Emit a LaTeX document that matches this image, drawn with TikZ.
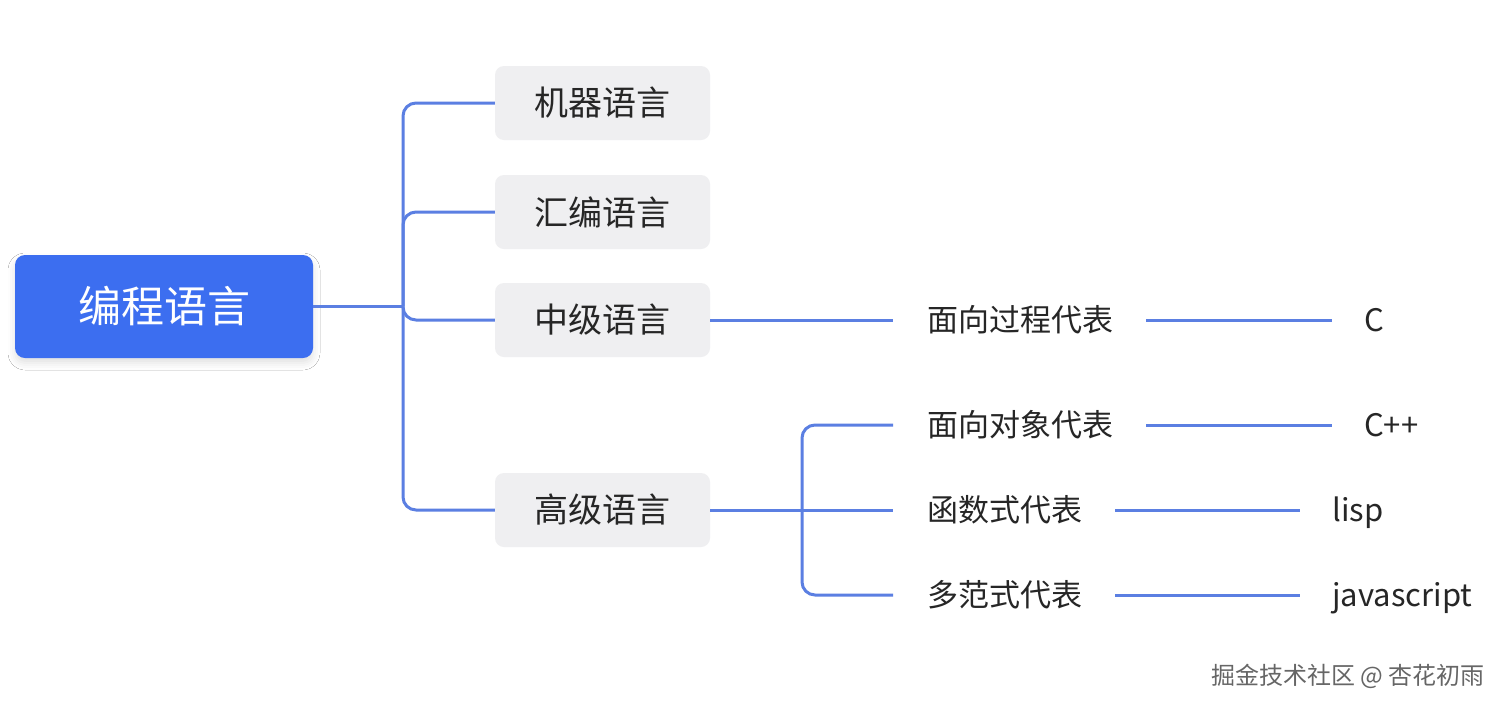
\documentclass[tikz,border=0pt]{standalone}
\usepackage{fontspec}
\setmainfont{Noto Sans CJK SC}
\usetikzlibrary{shadows.blur}
\definecolor{rootblue}{HTML}{3C6EF0}
\definecolor{linkblue}{HTML}{5B7FE2}
\definecolor{boxgray}{HTML}{EFEFF1}
\definecolor{txt}{HTML}{262626}
\tikzset{
  rootbox/.style={fill=rootblue, rounded corners=10pt, minimum width=298pt, minimum height=103pt,
    text=white, font=\fontsize{43}{50}\selectfont, inner sep=0pt,
    blur shadow={shadow xshift=0pt, shadow yshift=-5pt, shadow blur radius=7pt, shadow blur extra rounding=4pt, shadow opacity=12}},
  graybox/.style={fill=boxgray, rounded corners=9pt, minimum width=215pt, minimum height=74pt,
    text=txt, font=\fontsize{34}{40}\selectfont, inner sep=0pt},
  leaf/.style={anchor=west, inner sep=0pt, text=txt, font=\fontsize{31}{36}\selectfont,
    text height=27pt, text depth=4pt},
  link/.style={draw=linkblue, line width=3pt},
  trunk/.style={link, rounded corners=13pt},
}
\begin{document}
\begin{tikzpicture}[x=1pt,y=-1pt]
\useasboundingbox (0,0) rectangle (1506,710);
\fill[white] (0,0) rectangle (1506,710);

% root
\node[rootbox] (root) at (164,306.5) {编程语言};

% level 1
\node[graybox] (m1) at (602.5,103) {机器语言};
\node[graybox] (m2) at (602.5,212) {汇编语言};
\node[graybox] (m3) at (602.5,320) {中级语言};
\node[graybox] (m4) at (602.5,510) {高级语言};

% level 2
\node[leaf] (p1) at (927,320) {面向过程代表};
\node[leaf] (p2) at (927,425) {面向对象代表};
\node[leaf] (p3) at (927,510) {函数式代表};
\node[leaf] (p4) at (927,595) {多范式代表};

% level 3
\node[leaf] (l1) at (1364,320) {C};
\node[leaf] (l2) at (1364,425) {C++};
\node[leaf] (l3) at (1332,510) {lisp};
\node[leaf] (l4) at (1332,595) {javascript};

% junctions
\coordinate (t) at (403,306.5);
\coordinate (s) at (802,510);

% connectors root -> level 1
\draw[link] (root.east) -- (t);
\draw[trunk] (t) |- (m1.west);
\draw[trunk] (t) |- (m2.west);
\draw[trunk] (t) |- (m3.west);
\draw[trunk] (t) |- (m4.west);

% level 1 -> level 2
\draw[link] (m3.east) -- ([xshift=-34pt]p1.west);
\draw[link] (m4.east) -- (s);
\draw[trunk] (s) |- ([xshift=-34pt]p2.west);
\draw[link] (s) -- ([xshift=-34pt]p3.west);
\draw[trunk] (s) |- ([xshift=-34pt]p4.west);

% level 2 -> level 3
\draw[link] ([xshift=33pt]p1.east) -- ([xshift=-32pt]l1.west);
\draw[link] ([xshift=33pt]p2.east) -- ([xshift=-32pt]l2.west);
\draw[link] ([xshift=33pt]p3.east) -- ([xshift=-32pt]l3.west);
\draw[link] ([xshift=33pt]p4.east) -- ([xshift=-32pt]l4.west);

% credit
\node[anchor=east, inner sep=0pt, text=black!60, font=\fontsize{24}{28}\selectfont] (credit) at (1485,676) {掘金技术社区 @ 杏花初雨};
\end{tikzpicture}
\end{document}
